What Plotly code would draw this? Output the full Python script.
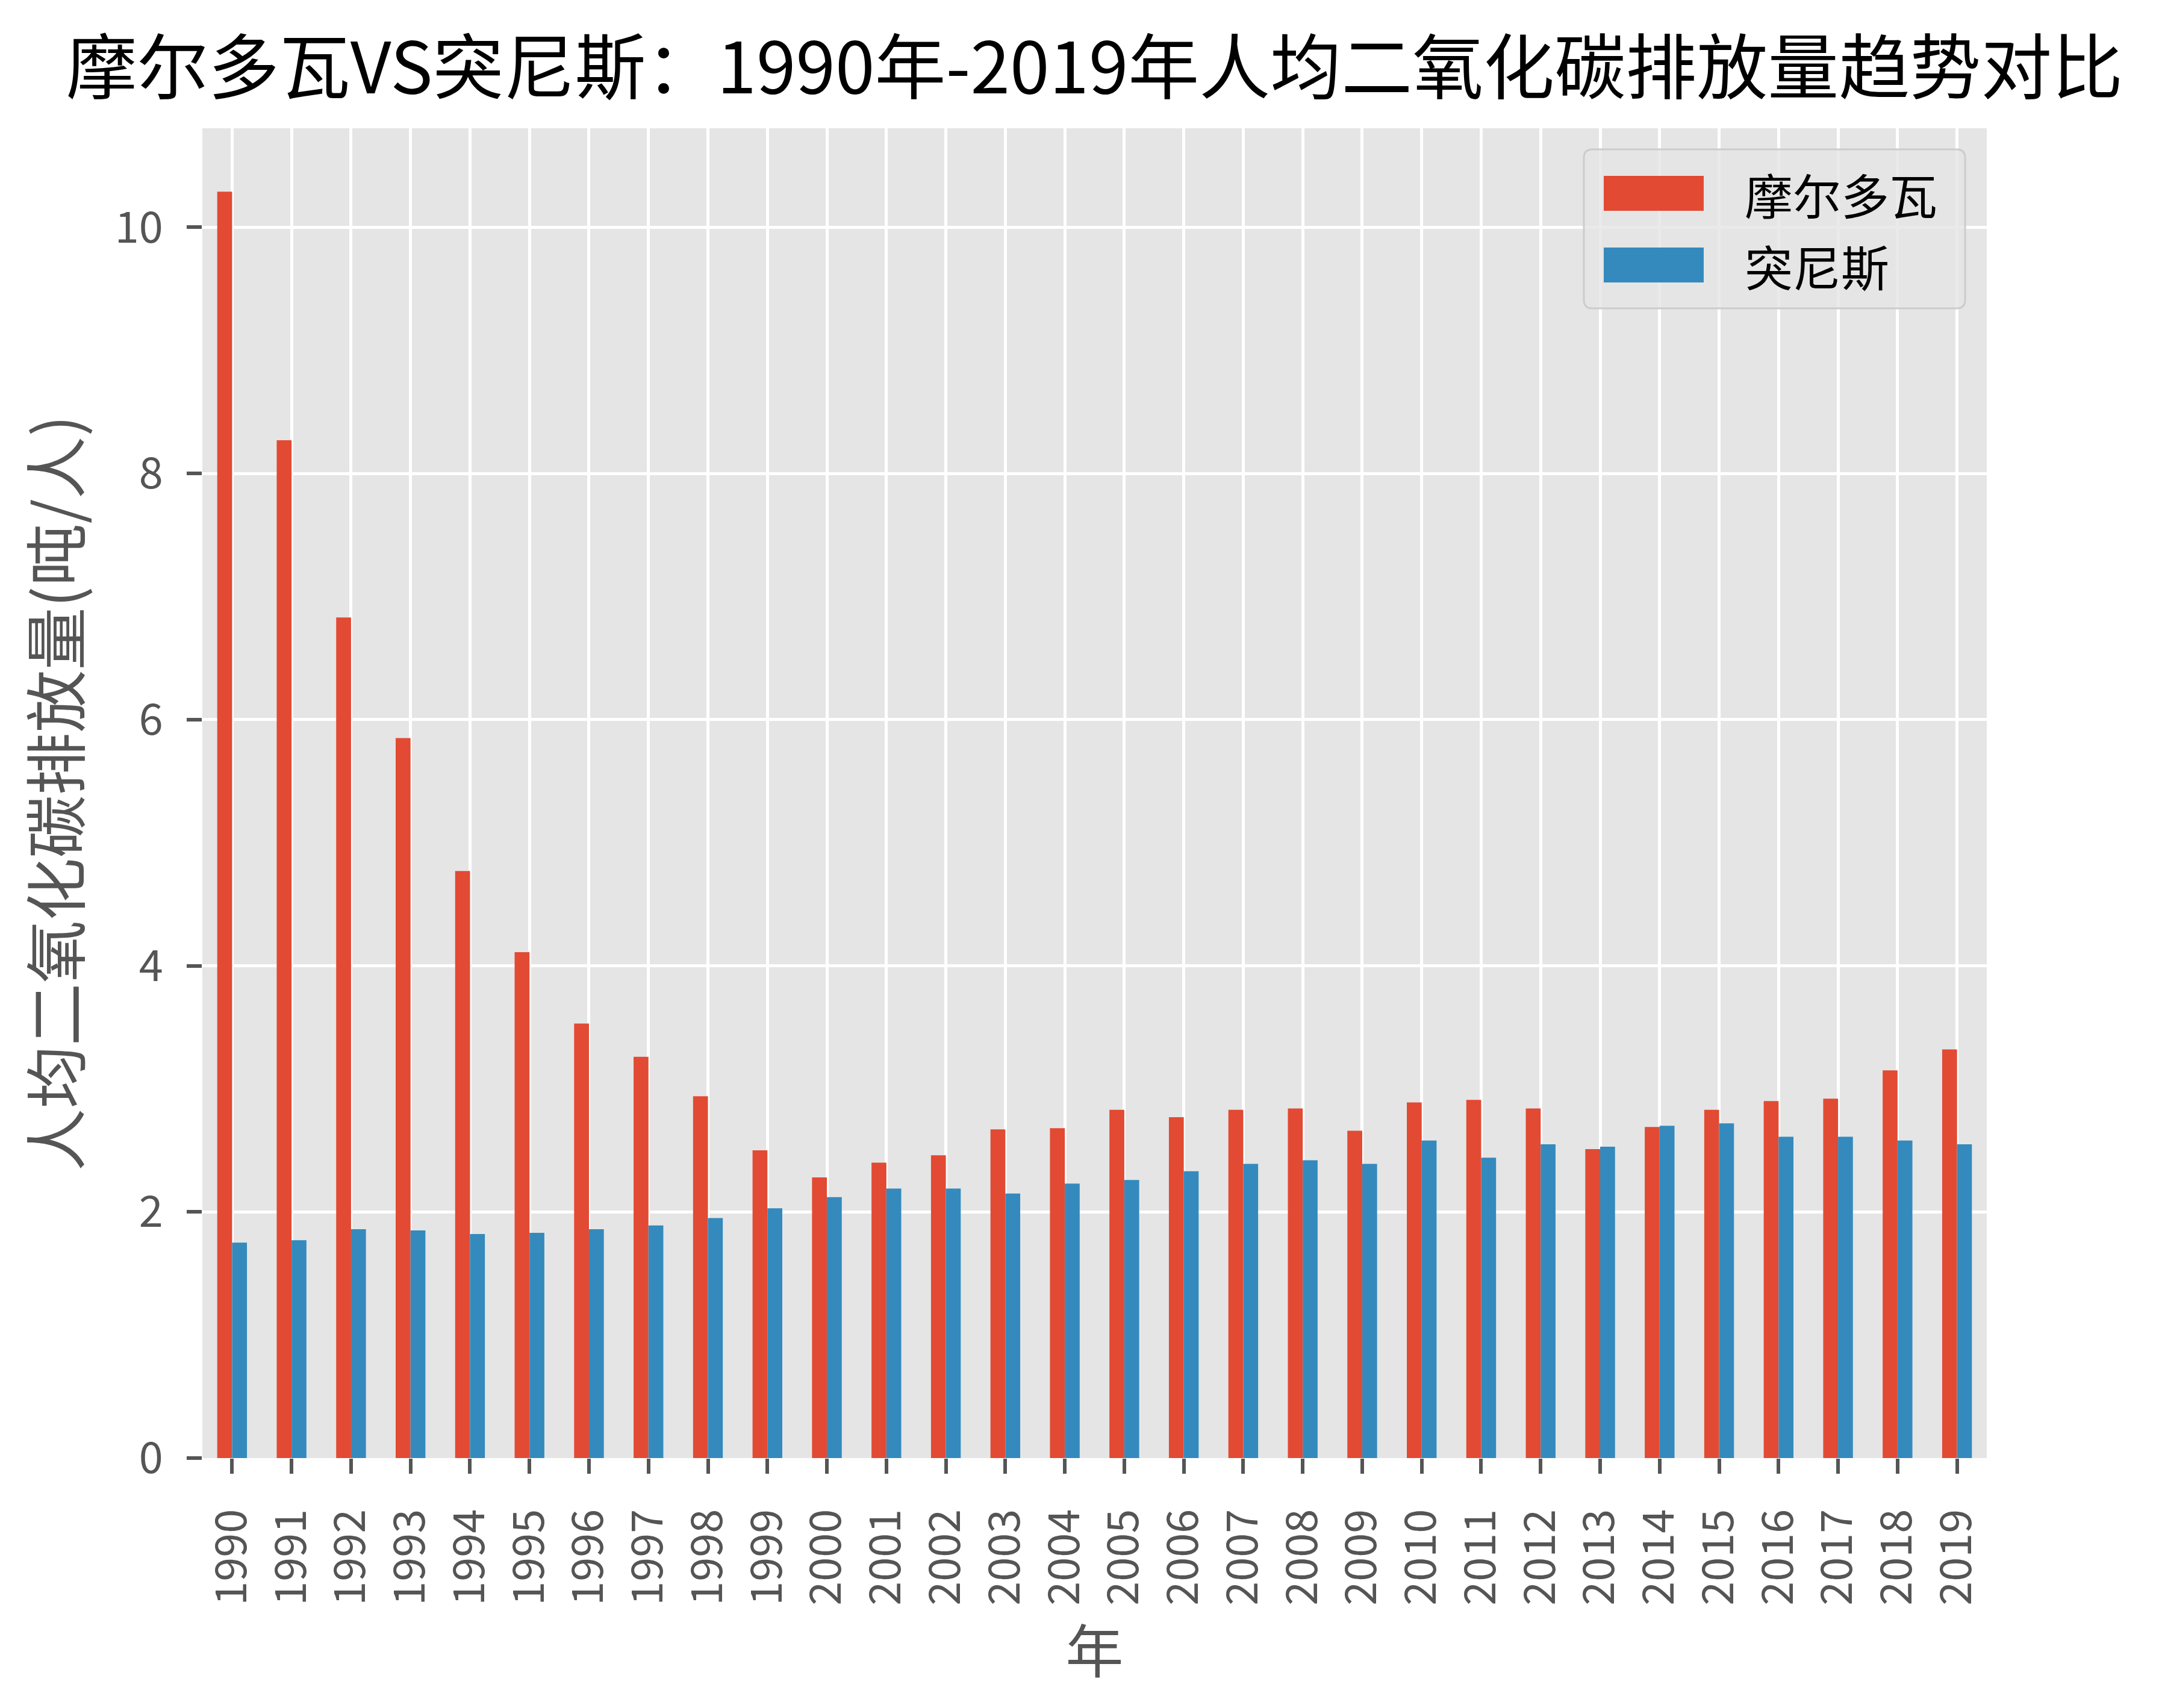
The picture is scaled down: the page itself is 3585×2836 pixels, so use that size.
import plotly.graph_objects as go

years = [str(y) for y in range(1990, 2020)]
moldova = [10.29, 8.27, 6.83, 5.85, 4.77, 4.11, 3.53, 3.26, 2.94, 2.50,
           2.28, 2.40, 2.46, 2.67, 2.68, 2.83, 2.77, 2.83, 2.84, 2.66,
           2.89, 2.91, 2.84, 2.51, 2.69, 2.83, 2.90, 2.92, 3.15, 3.32]
tunisia = [1.75, 1.77, 1.86, 1.85, 1.82, 1.83, 1.86, 1.89, 1.95, 2.03,
           2.12, 2.19, 2.19, 2.15, 2.23, 2.26, 2.33, 2.39, 2.42, 2.39,
           2.58, 2.44, 2.55, 2.53, 2.70, 2.72, 2.61, 2.61, 2.58, 2.55]
series_names = ["摩尔多瓦", "突尼斯"]
colors = ["#E24A33", "#348ABD"]
yticks = [0, 2, 4, 6, 8, 10]

title_text = "摩尔多瓦VS突尼斯：1990年-2019年人均二氧化碳排放量趋势对比"
xlabel = "年"
ylabel = "人均二氧化碳排放量(吨/人)"

W, H = 3585, 2836
L, R, T, B = 336, 286, 213, 415
PW, PH = W - L - R, H - T - B
FONT = "Noto Sans CJK SC, Noto Sans, sans-serif"

fig = go.Figure()
for name, vals, col in zip(series_names, [moldova, tunisia], colors):
    fig.add_trace(go.Bar(x=years, y=vals, name=name, marker_color=col,
                         marker_line_width=0, showlegend=False))

ymax = max(moldova + tunisia) * 1.05

fig.update_layout(
    width=W, height=H,
    margin=dict(l=L, r=R, t=T, b=B, pad=0),
    paper_bgcolor="white",
    plot_bgcolor="#E5E5E5",
    barmode="group", bargap=0.5, bargroupgap=0,
    font=dict(family=FONT, color="#555555"),
    title=dict(text=title_text, x=(L + PW / 2) / W, xanchor="center",
               y=1 - 114 / H, yanchor="middle",
               font=dict(family=FONT, size=118, color="black")),
)

fig.update_xaxes(
    type="category", range=[-0.5, len(years) - 0.5],
    showgrid=True, gridcolor="white", gridwidth=5,
    ticks="outside", ticklen=25, tickwidth=6, tickcolor="#555555",
    tickangle=-90, tickfont=dict(size=72, color="#555555"),
    ticklabelstandoff=30,
    showline=False, zeroline=False,
    title=dict(text=xlabel, font=dict(size=96, color="#555555"), standoff=30),
)
fig.update_yaxes(
    range=[0, ymax], tickvals=yticks, ticktext=[str(v) for v in yticks],
    showgrid=True, gridcolor="white", gridwidth=5,
    ticks="outside", ticklen=25, tickwidth=6, tickcolor="#555555",
    tickfont=dict(size=72, color="#555555"),
    ticklabelstandoff=25,
    showline=False, zeroline=False,
    title=dict(text=ylabel, font=dict(size=104, color="#555555"), standoff=22),
)

# custom legend (paper coordinates)
def px2x(px):
    return (px - L) / PW

def px2y(py):
    return (H - B - py) / PH

bx0, bx1, by0, by1 = 2630, 3263, 248, 512
r = 14
rx, ry = r / PW, r / PH
x0, x1, y0, y1 = px2x(bx0), px2x(bx1), px2y(by1), px2y(by0)
path = (f"M {x0+rx},{y0} L {x1-rx},{y0} Q {x1},{y0} {x1},{y0+ry} "
        f"L {x1},{y1-ry} Q {x1},{y1} {x1-rx},{y1} L {x0+rx},{y1} "
        f"Q {x0},{y1} {x0},{y1-ry} L {x0},{y0+ry} Q {x0},{y0} {x0+rx},{y0} Z")
fig.add_shape(type="path", path=path, xref="paper", yref="paper",
              fillcolor="rgba(229,229,229,0.8)",
              line=dict(color="#CCCCCC", width=3), layer="above")

rows = [321, 440]
for name, col, cy in zip(series_names, colors, rows):
    fig.add_shape(type="rect", xref="paper", yref="paper",
                  x0=px2x(2663), x1=px2x(2829),
                  y0=px2y(cy + 29), y1=px2y(cy - 29),
                  fillcolor=col, line=dict(width=0), layer="above")
    fig.add_annotation(x=px2x(2895), y=px2y(cy), xref="paper", yref="paper",
                       text=name, showarrow=False, xanchor="left",
                       yanchor="middle",
                       font=dict(family=FONT, size=80, color="black"))

fig.write_html("out.html",
               config={"displayModeBar": False},
               post_script="document.body.style.margin='0';"
                           "document.body.style.overflow='hidden';")
